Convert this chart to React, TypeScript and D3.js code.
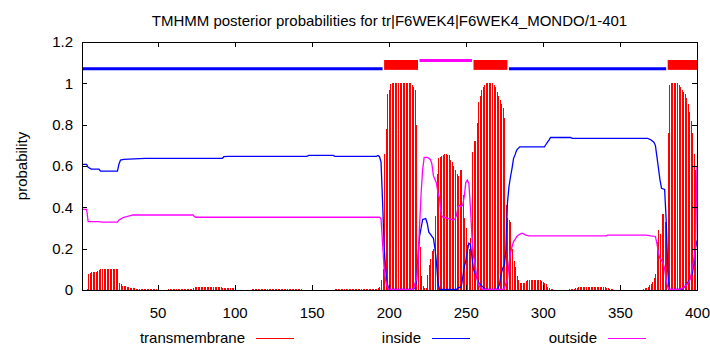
import React, { useEffect, useRef } from 'react';
import * as d3 from 'd3';

const title = 'TMHMM posterior probabilities for tr|F6WEK4|F6WEK4_MONDO/1-401';
const yLabel = 'probability';
const residueRange: [number, number] = [1, 400];
const xTicks = [50, 100, 150, 200, 250, 300, 350, 400];
const yTicks = [0, 0.2, 0.4, 0.6, 0.8, 1, 1.2];

// transmembrane probability, as runs [from, to, value]
const tmRuns: [number, number, number][] = [
  [4, 4, 0.003], [5, 5, 0.077], [6, 6, 0.08], [7, 7, 0.085], [8, 10, 0.087], [11, 11, 0.09], [12, 12, 0.095],
  [13, 24, 0.1], [25, 25, 0.035], [26, 26, 0.03], [27, 29, 0.02], [30, 30, 0.015], [31, 31, 0.013],
  [32, 32, 0.012], [33, 33, 0.01], [34, 34, 0.009], [35, 35, 0.008], [36, 49, 0.005], [57, 72, 0.004],
  [73, 73, 0.01], [74, 91, 0.015], [92, 94, 0.012], [95, 99, 0.008], [111, 143, 0.005], [165, 192, 0.005],
  [193, 193, 0.008], [194, 194, 0.016], [195, 195, 0.05], [196, 196, 0.1], [197, 197, 0.66], [198, 198, 0.78],
  [199, 199, 0.95], [200, 200, 0.97], [201, 201, 0.995], [202, 214, 1], [215, 215, 0.99], [216, 216, 0.98],
  [217, 217, 0.97], [218, 218, 0.8], [219, 220, 0.21], [221, 221, 0.07], [222, 222, 0.02], [223, 224, 0.01],
  [225, 225, 0.075], [226, 226, 0.12], [227, 227, 0.15], [228, 228, 0.19], [229, 229, 0.2], [230, 230, 0.36],
  [231, 231, 0.56], [232, 232, 0.64], [233, 233, 0.645], [234, 234, 0.65], [235, 235, 0.655], [236, 237, 0.66],
  [238, 239, 0.655], [240, 240, 0.63], [241, 241, 0.62], [242, 242, 0.6], [243, 243, 0.58], [244, 244, 0.56],
  [245, 245, 0.55], [246, 247, 0.58], [248, 248, 0.46], [249, 249, 0.35], [250, 250, 0.3], [251, 251, 0.22],
  [252, 252, 0.2], [253, 253, 0.25], [254, 254, 0.67], [255, 256, 0.72], [257, 257, 0.81], [258, 258, 0.91],
  [259, 259, 0.94], [260, 260, 0.97], [261, 261, 0.98], [262, 262, 0.99], [263, 267, 1], [268, 268, 0.99],
  [269, 269, 0.98], [270, 270, 0.96], [271, 271, 0.94], [272, 272, 0.92], [273, 273, 0.9], [274, 274, 0.88],
  [275, 275, 0.83], [276, 276, 0.41], [277, 277, 0.35], [278, 278, 0.34], [279, 279, 0.33], [280, 280, 0.2],
  [281, 281, 0.14], [282, 282, 0.11], [283, 283, 0.07], [284, 284, 0.05], [285, 288, 0.035], [289, 289, 0.045],
  [290, 298, 0.05], [299, 299, 0.045], [300, 300, 0.04], [301, 301, 0.035], [302, 302, 0.03], [303, 303, 0.016],
  [304, 304, 0.008], [305, 306, 0.003], [317, 318, 0.003], [319, 320, 0.006], [321, 321, 0.009], [322, 322, 0.012],
  [323, 340, 0.015], [341, 342, 0.01], [343, 345, 0.005], [365, 365, 0.005], [366, 366, 0.008], [367, 367, 0.012],
  [368, 368, 0.016], [369, 369, 0.024], [370, 370, 0.03], [371, 371, 0.04], [372, 372, 0.056], [373, 373, 0.076],
  [374, 374, 0.23], [375, 375, 0.29], [376, 376, 0.27], [377, 378, 0.37], [379, 379, 0.33], [380, 380, 0.3],
  [381, 381, 0.76], [382, 382, 0.99], [383, 387, 1], [388, 388, 0.99], [389, 389, 0.98], [390, 390, 0.97],
  [391, 391, 0.96], [392, 392, 0.95], [393, 393, 0.93], [394, 394, 0.9], [395, 395, 0.86], [396, 396, 0.82],
  [397, 397, 0.76], [398, 398, 0.66], [399, 399, 0.58], [400, 400, 0.2],
];

// inside probability [residue, value]
const insidePoints: [number, number][] = [
  [1, 0.608], [4, 0.608], [5, 0.594], [7, 0.585], [12, 0.585], [13, 0.575], [24, 0.575], [25, 0.61], [26, 0.629],
  [28, 0.632], [42, 0.637], [92, 0.637], [93, 0.645], [96, 0.647], [147, 0.647], [148, 0.651], [164, 0.651],
  [165, 0.647], [192, 0.647], [193, 0.651], [194, 0.645], [195, 0.62], [196, 0.43], [197, 0.21], [198, 0.1],
  [199, 0.03], [200, 0.008], [201, 0.003], [216, 0.003], [217, 0.01], [218, 0.04], [219, 0.16], [220, 0.26],
  [221, 0.3], [222, 0.341], [224, 0.346], [225, 0.322], [226, 0.28], [227, 0.27], [228, 0.26], [229, 0.25],
  [230, 0.2], [231, 0.129], [232, 0.032], [233, 0.003], [244, 0.003], [245, 0.01], [247, 0.015], [248, 0.06],
  [249, 0.113], [250, 0.14], [251, 0.19], [252, 0.226], [253, 0.22], [254, 0.16], [255, 0.1], [256, 0.08],
  [257, 0.065], [258, 0.04], [259, 0.03], [261, 0.015], [262, 0.008], [263, 0.003], [270, 0.003], [271, 0.008],
  [272, 0.032], [273, 0.08], [274, 0.105], [275, 0.12], [276, 0.19], [277, 0.42], [278, 0.5], [279, 0.548],
  [280, 0.589], [281, 0.637], [282, 0.655], [283, 0.677], [285, 0.693], [301, 0.693], [302, 0.704],
  [303, 0.715], [304, 0.725], [305, 0.738], [318, 0.738], [319, 0.734], [368, 0.734], [370, 0.727],
  [372, 0.715], [373, 0.7], [374, 0.645], [375, 0.589], [376, 0.532], [377, 0.492], [379, 0.487],
  [380, 0.339], [381, 0.097], [382, 0.003], [390, 0.003], [391, 0.008], [393, 0.024], [395, 0.048],
  [397, 0.081], [398, 0.129], [399, 0.2], [400, 0.24],
];

// outside probability [residue, value]
const outsidePoints: [number, number][] = [
  [1, 0.39], [4, 0.39], [5, 0.331], [12, 0.331], [14, 0.328], [24, 0.328], [25, 0.339], [26, 0.343],
  [28, 0.352], [30, 0.355], [34, 0.363], [73, 0.363], [74, 0.355], [75, 0.352], [194, 0.352], [195, 0.345],
  [196, 0.226], [197, 0.105], [198, 0.048], [199, 0.016], [200, 0.003], [216, 0.003], [217, 0.032],
  [218, 0.05], [219, 0.129], [220, 0.306], [221, 0.468], [222, 0.581], [223, 0.642], [225, 0.642],
  [226, 0.637], [227, 0.632], [228, 0.61], [229, 0.552], [230, 0.535], [231, 0.516], [232, 0.468],
  [233, 0.444], [234, 0.363], [235, 0.355], [238, 0.347], [240, 0.343], [242, 0.339], [243, 0.343],
  [244, 0.363], [245, 0.403], [246, 0.41], [247, 0.403], [248, 0.41], [249, 0.452], [250, 0.52],
  [251, 0.532], [252, 0.516], [253, 0.4], [254, 0.258], [255, 0.161], [256, 0.129], [257, 0.065],
  [258, 0.03], [259, 0.015], [261, 0.003], [274, 0.003], [275, 0.008], [276, 0.032], [277, 0.048],
  [278, 0.129], [279, 0.177], [280, 0.21], [281, 0.234], [282, 0.245], [283, 0.258], [284, 0.265],
  [286, 0.274], [287, 0.274], [289, 0.266], [291, 0.262], [341, 0.262], [342, 0.266], [367, 0.266],
  [370, 0.262], [373, 0.259], [374, 0.226], [375, 0.177], [376, 0.153], [377, 0.145], [378, 0.13],
  [379, 0.105], [380, 0.048], [381, 0.016], [382, 0.003], [389, 0.003], [391, 0.01], [393, 0.024],
  [395, 0.04], [396, 0.065], [397, 0.113], [398, 0.145], [399, 0.2], [400, 0.6],
];

// predicted topology [from, to, kind]
const topology: [number, number, string][] = [
  [1, 196, 'inside'], [197, 219, 'tm'], [220, 254, 'outside'], [255, 277, 'tm'],
  [278, 380, 'inside'], [381, 400, 'tm'],
];
const topologyLevels = { inside: 1.07, outside: 1.11 };

const legendLabels = ['transmembrane', 'inside', 'outside'];
const colors: Record<string, string> = { tm: '#ff0000', inside: '#0000ff', outside: '#ff00ff' };
const legendKeys = ['tm', 'inside', 'outside'];

const FONT = '"Liberation Sans", Arial, sans-serif';

export default function App() {
  const ref = useRef<SVGSVGElement>(null);

  useEffect(() => {
    const svg = d3.select(ref.current);
    svg.selectAll('*').remove();

    const left = 82, right = 697, top = 42, bottom = 290;
    const x = d3.scaleLinear().domain(residueRange).range([left, right]);
    const y = d3.scaleLinear().domain([0, 1.2]).range([bottom, top]);

    // expand runs into per-residue values
    const tm: [number, number][] = [];
    tmRuns.forEach(([a, b, v]) => {
      d3.range(a, b + 1).forEach(r => tm.push([r, v]));
    });

    svg.append('rect').attr('width', 710).attr('height', 350).attr('fill', '#fff');

    svg.append('text')
      .attr('x', (left + right) / 2)
      .attr('y', 26)
      .attr('text-anchor', 'middle')
      .style('font-family', FONT)
      .style('font-size', '15px')
      .text(title);

    // impulses
    svg.append('g')
      .attr('shape-rendering', 'crispEdges')
      .selectAll('line')
      .data(tm)
      .join('line')
      .attr('x1', d => Math.round(x(d[0])) + 0.5)
      .attr('x2', d => Math.round(x(d[0])) + 0.5)
      .attr('y1', y(0))
      .attr('y2', d => y(d[1]))
      .attr('stroke', colors.tm)
      .attr('stroke-width', 1);

    const line = d3.line<[number, number]>().x(d => x(d[0])).y(d => y(d[1]));

    svg.append('path')
      .datum(insidePoints)
      .attr('d', line)
      .attr('fill', 'none')
      .attr('stroke', colors.inside)
      .attr('stroke-width', 1.3);

    svg.append('path')
      .datum(outsidePoints)
      .attr('d', line)
      .attr('fill', 'none')
      .attr('stroke', colors.outside)
      .attr('stroke-width', 1.3);

    // topology bar on top
    const topo = svg.append('g');
    topology.forEach(([a, b, kind]) => {
      if (kind === 'tm') {
        topo.append('rect')
          .attr('x', x(a))
          .attr('width', x(b) - x(a))
          .attr('y', y(topologyLevels.outside) - 0.6)
          .attr('height', y(topologyLevels.inside) - y(topologyLevels.outside) + 1.6)
          .attr('fill', colors.tm);
      } else {
        const lv = topologyLevels[kind as 'inside' | 'outside'];
        topo.append('line')
          .attr('x1', x(a)).attr('x2', x(b))
          .attr('y1', y(lv)).attr('y2', y(lv))
          .attr('stroke', colors[kind])
          .attr('stroke-width', 3);
      }
    });

    // axes with mirrored ticks
    const axisFont = (g: any) => g.selectAll('text').style('font-family', FONT).style('font-size', '15px').attr('fill', '#000');
    const xb = svg.append('g').attr('transform', `translate(0,${bottom})`)
      .call(d3.axisBottom(x).tickValues(xTicks).tickSizeInner(-5).tickSizeOuter(0).tickPadding(17));
    xb.call(axisFont);
    svg.append('g').attr('transform', `translate(0,${top})`)
      .call(d3.axisTop(x).tickValues(xTicks).tickSizeInner(-5).tickSizeOuter(0).tickFormat(() => ''));
    const yl = svg.append('g').attr('transform', `translate(${left},0)`)
      .call(d3.axisLeft(y).tickValues(yTicks).tickSizeInner(-5).tickSizeOuter(0).tickPadding(9).tickFormat(d3.format('~g') as any));
    yl.call(axisFont);
    svg.append('g').attr('transform', `translate(${right},0)`)
      .call(d3.axisRight(y).tickValues(yTicks).tickSizeInner(-5).tickSizeOuter(0).tickFormat(() => ''));
    svg.selectAll('.domain').remove();
    svg.selectAll('.tick line').attr('stroke', '#000').attr('shape-rendering', 'crispEdges');

    svg.append('rect')
      .attr('x', left + 0.5).attr('y', top + 0.5)
      .attr('width', right - left).attr('height', bottom - top)
      .attr('fill', 'none').attr('stroke', '#000')
      .attr('shape-rendering', 'crispEdges');

    svg.append('text')
      .attr('transform', `translate(22,${(top + bottom) / 2}) rotate(-90)`)
      .attr('text-anchor', 'middle')
      .attr('dy', '0.35em')
      .style('font-family', FONT)
      .style('font-size', '15px')
      .text(yLabel);

    // legend
    const legend = svg.append('g').attr('transform', 'translate(0,338)');
    legendLabels.forEach((label, i) => {
      const tx = 245 + i * 176;
      legend.append('text')
        .attr('x', tx).attr('y', 0).attr('dy', '0.35em')
        .attr('text-anchor', 'end')
        .style('font-family', FONT)
        .style('font-size', '15px')
        .text(label);
      legend.append('line')
        .attr('x1', tx + 11).attr('x2', tx + 49)
        .attr('y1', 0.5).attr('y2', 0.5)
        .attr('stroke', colors[legendKeys[i]])
        .attr('stroke-width', 1.2);
    });
  }, []);

  return (
    <svg ref={ref} width={710} height={350} style={{ position: 'absolute', left: 0, top: 0 }} />
  );
}
